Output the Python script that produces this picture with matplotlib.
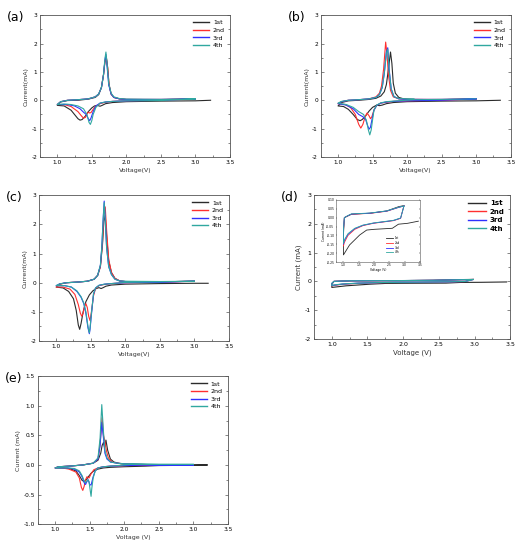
import matplotlib
matplotlib.use("Agg")
import matplotlib.pyplot as plt
from matplotlib.ticker import MultipleLocator, FormatStrFormatter

labels = ["1st", "2nd", "3rd", "4th"]
colors = ["#2b2b2b", "#ff3030", "#3030ff", "#30a8a0"]

# ---------------- panel (a) ----------------
a1_v = [3.22, 3.0, 2.5, 2.0, 1.8, 1.7, 1.65, 1.62, 1.58, 1.54, 1.5, 1.45, 1.4, 1.36, 1.33, 1.3, 1.25, 1.2, 1.1, 1.0,
        1.0, 1.05, 1.15, 1.3, 1.45, 1.55, 1.6, 1.64, 1.67, 1.69, 1.71, 1.73, 1.75, 1.78, 1.82, 1.9, 2.0, 2.5, 3.0]
a1_i = [0.0, -0.02, -0.03, -0.05, -0.08, -0.12, -0.18, -0.21, -0.18, -0.2, -0.27, -0.4, -0.58, -0.68, -0.7, -0.65, -0.5, -0.35, -0.2, -0.18,
        -0.18, -0.06, -0.01, 0.0, 0.04, 0.1, 0.2, 0.45, 0.9, 1.35, 1.55, 1.15, 0.55, 0.22, 0.1, 0.05, 0.03, 0.02, 0.05]
a2_v = [3.0, 2.5, 2.0, 1.8, 1.7, 1.62, 1.56, 1.52, 1.49, 1.47, 1.45, 1.43, 1.41, 1.38, 1.35, 1.3, 1.2, 1.1, 1.0,
        1.0, 1.05, 1.15, 1.3, 1.45, 1.55, 1.6, 1.64, 1.67, 1.69, 1.71, 1.73, 1.75, 1.78, 1.82, 1.9, 2.0, 2.5, 3.0]
a2_i = [0.05, 0.0, -0.02, -0.04, -0.07, -0.12, -0.2, -0.32, -0.43, -0.45, -0.42, -0.48, -0.6, -0.63, -0.55, -0.4, -0.22, -0.15, -0.15,
        -0.15, -0.05, 0.0, 0.02, 0.05, 0.12, 0.22, 0.45, 0.9, 1.35, 1.5, 1.15, 0.55, 0.22, 0.1, 0.05, 0.03, 0.03, 0.05]
a3_v = [3.0, 2.5, 2.0, 1.8, 1.7, 1.62, 1.56, 1.52, 1.49, 1.47, 1.45, 1.42, 1.38, 1.33, 1.25, 1.15, 1.0,
        1.0, 1.05, 1.15, 1.3, 1.45, 1.55, 1.6, 1.64, 1.67, 1.69, 1.705, 1.72, 1.745, 1.78, 1.82, 1.9, 2.0, 2.5, 3.0]
a3_i = [0.05, 0.0, -0.02, -0.04, -0.06, -0.1, -0.2, -0.4, -0.62, -0.72, -0.65, -0.5, -0.42, -0.3, -0.2, -0.15, -0.15,
        -0.15, -0.05, 0.0, 0.02, 0.05, 0.12, 0.22, 0.45, 0.9, 1.4, 1.62, 1.25, 0.55, 0.22, 0.1, 0.05, 0.03, 0.03, 0.05]
a4_v = [3.0, 2.5, 2.0, 1.8, 1.7, 1.62, 1.56, 1.52, 1.50, 1.48, 1.46, 1.43, 1.38, 1.3, 1.2, 1.1, 1.0,
        1.0, 1.05, 1.15, 1.3, 1.45, 1.55, 1.6, 1.64, 1.67, 1.69, 1.705, 1.72, 1.745, 1.78, 1.82, 1.9, 2.0, 2.5, 3.0]
a4_i = [0.05, -0.01, -0.02, -0.04, -0.06, -0.1, -0.25, -0.5, -0.72, -0.85, -0.78, -0.5, -0.3, -0.2, -0.15, -0.13, -0.15,
        -0.15, -0.05, 0.0, 0.02, 0.05, 0.12, 0.22, 0.45, 0.9, 1.45, 1.7, 1.3, 0.6, 0.25, 0.12, 0.06, 0.04, 0.03, 0.05]

# ---------------- panel (b) ----------------
b1_v = [3.35, 3.0, 2.5, 2.0, 1.8, 1.7, 1.64, 1.6, 1.56, 1.5, 1.45, 1.4, 1.35, 1.32, 1.28, 1.22, 1.15, 1.08, 1.0,
        1.0, 1.05, 1.15, 1.3, 1.45, 1.55, 1.62, 1.67, 1.7, 1.73, 1.76, 1.78, 1.8, 1.83, 1.88, 1.95, 2.1, 2.5, 3.0]
b1_i = [0.0, -0.02, -0.03, -0.05, -0.08, -0.12, -0.17, -0.19, -0.17, -0.25, -0.38, -0.55, -0.68, -0.72, -0.68, -0.5, -0.32, -0.22, -0.2,
        -0.2, -0.08, -0.02, 0.0, 0.03, 0.07, 0.15, 0.3, 0.55, 1.1, 1.7, 1.3, 0.6, 0.25, 0.1, 0.05, 0.03, 0.02, 0.05]
b2_v = [3.0, 2.5, 2.0, 1.8, 1.7, 1.62, 1.56, 1.52, 1.49, 1.47, 1.45, 1.42, 1.39, 1.36, 1.33, 1.3, 1.25, 1.18, 1.1, 1.0,
        1.0, 1.05, 1.15, 1.3, 1.45, 1.55, 1.6, 1.63, 1.66, 1.69, 1.71, 1.73, 1.76, 1.8, 1.88, 2.0, 2.5, 3.0]
b2_i = [0.05, 0.0, -0.02, -0.04, -0.07, -0.1, -0.18, -0.35, -0.58, -0.65, -0.55, -0.45, -0.6, -0.85, -0.98, -0.85, -0.5, -0.25, -0.15, -0.12,
        -0.12, -0.05, 0.0, 0.02, 0.05, 0.12, 0.25, 0.5, 1.1, 2.05, 1.6, 0.9, 0.35, 0.12, 0.05, 0.03, 0.03, 0.05]
b3_v = [3.0, 2.5, 2.0, 1.8, 1.7, 1.62, 1.56, 1.52, 1.49, 1.47, 1.45, 1.43, 1.4, 1.36, 1.3, 1.22, 1.12, 1.0,
        1.0, 1.05, 1.15, 1.3, 1.45, 1.55, 1.6, 1.64, 1.67, 1.7, 1.72, 1.74, 1.77, 1.81, 1.88, 2.0, 2.5, 3.0]
b3_i = [0.05, 0.0, -0.02, -0.04, -0.06, -0.1, -0.18, -0.35, -0.7, -0.95, -1.02, -0.9, -0.68, -0.58, -0.5, -0.3, -0.17, -0.12,
        -0.12, -0.05, 0.0, 0.02, 0.05, 0.1, 0.2, 0.45, 0.95, 1.7, 1.85, 1.1, 0.4, 0.13, 0.05, 0.03, 0.03, 0.05]
b4_v = [3.0, 2.5, 2.1, 1.8, 1.7, 1.62, 1.56, 1.52, 1.5, 1.48, 1.46, 1.44, 1.41, 1.37, 1.3, 1.22, 1.12, 1.0,
        1.0, 1.05, 1.15, 1.3, 1.45, 1.55, 1.6, 1.64, 1.67, 1.7, 1.72, 1.74, 1.77, 1.81, 1.88, 2.0, 2.1]
b4_i = [0.05, 0.03, 0.02, -0.03, -0.05, -0.09, -0.17, -0.35, -0.7, -1.05, -1.22, -1.05, -0.7, -0.5, -0.4, -0.25, -0.15, -0.1,
        -0.1, -0.04, 0.0, 0.02, 0.05, 0.1, 0.2, 0.45, 0.95, 1.65, 1.8, 1.05, 0.4, 0.13, 0.06, 0.05, 0.05]

# ---------------- panel (c) ----------------
c1_v = [3.2, 3.0, 2.5, 2.0, 1.8, 1.72, 1.68, 1.65, 1.62, 1.58, 1.53, 1.48, 1.43, 1.39, 1.36, 1.34, 1.32, 1.29, 1.25, 1.18, 1.1, 1.0,
        1.0, 1.05, 1.15, 1.3, 1.45, 1.55, 1.6, 1.64, 1.67, 1.69, 1.71, 1.73, 1.76, 1.8, 1.85, 1.92, 2.0, 2.5, 3.0]
c1_i = [-0.02, -0.02, -0.03, -0.05, -0.08, -0.12, -0.17, -0.2, -0.17, -0.2, -0.28, -0.42, -0.65, -1.0, -1.4, -1.6, -1.45, -0.95, -0.55, -0.3, -0.18, -0.15,
        -0.15, -0.05, 0.0, 0.02, 0.05, 0.12, 0.25, 0.55, 1.3, 2.1, 2.3, 1.6, 0.75, 0.35, 0.15, 0.06, 0.04, 0.03, 0.05]
c2_v = [3.0, 2.5, 2.0, 1.8, 1.7, 1.62, 1.57, 1.54, 1.51, 1.49, 1.47, 1.45, 1.43, 1.41, 1.39, 1.37, 1.35, 1.32, 1.27, 1.2, 1.1, 1.0,
        1.0, 1.05, 1.15, 1.3, 1.45, 1.55, 1.6, 1.64, 1.67, 1.69, 1.71, 1.73, 1.76, 1.8, 1.85, 1.92, 2.0, 2.5, 3.0]
c2_i = [0.05, 0.02, 0.0, -0.03, -0.06, -0.1, -0.2, -0.45, -1.0, -1.3, -1.15, -0.85, -0.72, -0.8, -1.05, -1.15, -1.05, -0.75, -0.4, -0.22, -0.15, -0.15,
        -0.15, -0.05, 0.0, 0.02, 0.05, 0.12, 0.25, 0.55, 1.4, 2.35, 2.6, 1.8, 0.8, 0.35, 0.15, 0.06, 0.04, 0.03, 0.05]
c3_v = [3.0, 2.5, 2.0, 1.8, 1.7, 1.62, 1.57, 1.54, 1.51, 1.49, 1.48, 1.46, 1.43, 1.4, 1.36, 1.3, 1.22, 1.12, 1.0,
        1.0, 1.05, 1.15, 1.3, 1.45, 1.55, 1.6, 1.64, 1.66, 1.68, 1.695, 1.71, 1.73, 1.76, 1.8, 1.85, 1.92, 2.0, 2.5, 3.0]
c3_i = [0.05, 0.02, 0.0, -0.03, -0.05, -0.09, -0.18, -0.4, -1.1, -1.6, -1.75, -1.55, -1.05, -0.72, -0.5, -0.3, -0.15, -0.1, -0.1,
        -0.1, -0.04, 0.0, 0.02, 0.05, 0.12, 0.25, 0.6, 1.2, 2.2, 2.8, 2.2, 1.2, 0.55, 0.28, 0.12, 0.06, 0.04, 0.03, 0.05]
c4_v = [3.0, 2.5, 2.0, 1.8, 1.7, 1.62, 1.57, 1.54, 1.51, 1.49, 1.48, 1.46, 1.43, 1.4, 1.36, 1.3, 1.22, 1.12, 1.0,
        1.0, 1.05, 1.15, 1.3, 1.45, 1.55, 1.6, 1.64, 1.66, 1.68, 1.695, 1.71, 1.73, 1.76, 1.8, 1.85, 1.92, 2.0, 2.5, 3.0]
c4_i = [0.05, 0.03, 0.01, -0.03, -0.05, -0.09, -0.18, -0.38, -1.05, -1.55, -1.72, -1.5, -1.0, -0.7, -0.48, -0.28, -0.15, -0.1, -0.1,
        -0.1, -0.04, 0.0, 0.02, 0.05, 0.12, 0.25, 0.6, 1.2, 2.15, 2.75, 2.15, 1.2, 0.55, 0.28, 0.12, 0.06, 0.05, 0.04, 0.05]

# ---------------- panel (d) ----------------
d1_v = [3.45, 3.1, 2.8, 2.6, 2.0, 1.76, 1.53, 1.2, 1.0, 1.0, 1.03, 1.15, 1.26, 1.87, 2.42, 2.81, 2.98]
d1_i = [-0.02, -0.032, -0.037, -0.06, -0.066, -0.07, -0.098, -0.154, -0.21, -0.1, 0.0, 0.01, 0.019, 0.025, 0.038, 0.062, 0.068]
d2_v = [2.98, 2.87, 2.64, 1.98, 1.64, 1.37, 1.15, 1.03, 1.0, 1.0, 1.03, 1.15, 1.26, 1.87, 2.42, 2.81, 2.98]
d2_i = [0.068, -0.004, -0.017, -0.032, -0.045, -0.066, -0.1, -0.14, -0.16, -0.08, 0.0, 0.01, 0.019, 0.024, 0.036, 0.058, 0.066]
d3_v = [2.98, 2.87, 2.64, 1.98, 1.64, 1.37, 1.15, 1.03, 1.0, 1.0, 1.03, 1.15, 1.26, 1.87, 2.42, 2.81, 2.98]
d3_i = [0.066, -0.003, -0.016, -0.031, -0.043, -0.062, -0.094, -0.13, -0.15, -0.07, 0.0, 0.011, 0.02, 0.025, 0.037, 0.058, 0.065]
d4_v = [2.98, 2.87, 2.64, 1.98, 1.64, 1.37, 1.15, 1.03, 1.0, 1.0, 1.03, 1.15, 1.26, 1.87, 2.42, 2.81, 2.98]
d4_i = [0.065, -0.002, -0.015, -0.03, -0.042, -0.06, -0.09, -0.125, -0.145, -0.07, 0.0, 0.012, 0.021, 0.026, 0.038, 0.059, 0.066]

# ---------------- panel (e) ----------------
e1_v = [3.2, 3.0, 2.5, 2.3, 2.0, 1.8, 1.7, 1.62, 1.56, 1.52, 1.48, 1.45, 1.42, 1.39, 1.35, 1.3, 1.2, 1.1, 1.0,
        1.0, 1.05, 1.2, 1.4, 1.55, 1.62, 1.66, 1.68, 1.70, 1.715, 1.735, 1.76, 1.8, 1.85, 1.95, 2.1, 2.3, 3.2]
e1_i = [0.0, -0.005, -0.01, -0.02, -0.03, -0.04, -0.05, -0.07, -0.1, -0.14, -0.2, -0.25, -0.28, -0.26, -0.18, -0.1, -0.06, -0.05, -0.05,
        -0.05, -0.03, -0.02, 0.0, 0.03, 0.08, 0.2, 0.33, 0.38, 0.3, 0.42, 0.25, 0.1, 0.05, 0.02, 0.01, 0.0, 0.0]
e2_v = [3.0, 2.5, 2.0, 1.8, 1.7, 1.62, 1.56, 1.52, 1.49, 1.46, 1.44, 1.42, 1.40, 1.38, 1.35, 1.3, 1.2, 1.1, 1.0,
        1.0, 1.05, 1.2, 1.4, 1.55, 1.62, 1.65, 1.68, 1.70, 1.72, 1.74, 1.77, 1.82, 1.9, 2.0, 2.5, 3.0]
e2_i = [0.0, -0.005, -0.01, -0.02, -0.03, -0.05, -0.08, -0.15, -0.22, -0.2, -0.25, -0.36, -0.43, -0.38, -0.22, -0.12, -0.07, -0.05, -0.05,
        -0.05, -0.03, -0.02, 0.0, 0.03, 0.1, 0.35, 0.8, 0.5, 0.4, 0.25, 0.12, 0.05, 0.03, 0.02, 0.0, 0.0]
e3_v = [3.0, 2.5, 2.0, 1.8, 1.7, 1.62, 1.58, 1.55, 1.52, 1.50, 1.48, 1.46, 1.44, 1.42, 1.39, 1.35, 1.28, 1.18, 1.0,
        1.0, 1.05, 1.2, 1.4, 1.55, 1.62, 1.65, 1.675, 1.70, 1.72, 1.75, 1.8, 1.9, 2.0, 2.5, 3.0]
e3_i = [0.0, 0.0, -0.01, -0.02, -0.03, -0.05, -0.1, -0.2, -0.34, -0.33, -0.25, -0.28, -0.33, -0.3, -0.2, -0.12, -0.07, -0.05, -0.05,
        -0.05, -0.03, -0.02, 0.0, 0.03, 0.1, 0.32, 0.72, 0.45, 0.2, 0.1, 0.05, 0.03, 0.02, 0.0, 0.0]
e4_v = [3.0, 2.5, 2.1, 1.8, 1.7, 1.62, 1.58, 1.55, 1.53, 1.52, 1.51, 1.49, 1.47, 1.44, 1.42, 1.39, 1.35, 1.28, 1.18, 1.0,
        1.0, 1.05, 1.2, 1.4, 1.55, 1.62, 1.65, 1.675, 1.70, 1.72, 1.75, 1.8, 1.9, 2.0, 2.1, 2.5, 3.0]
e4_i = [0.01, 0.01, 0.01, -0.02, -0.03, -0.05, -0.1, -0.22, -0.4, -0.53, -0.45, -0.28, -0.25, -0.3, -0.27, -0.18, -0.1, -0.06, -0.05, -0.05,
        -0.05, -0.03, -0.02, 0.0, 0.03, 0.12, 0.45, 1.02, 0.55, 0.25, 0.12, 0.05, 0.03, 0.02, 0.02, 0.01, 0.01]

panels = {
    "a": [(a1_v, a1_i), (a2_v, a2_i), (a3_v, a3_i), (a4_v, a4_i)],
    "b": [(b1_v, b1_i), (b2_v, b2_i), (b3_v, b3_i), (b4_v, b4_i)],
    "c": [(c1_v, c1_i), (c2_v, c2_i), (c3_v, c3_i), (c4_v, c4_i)],
    "d": [(d1_v, d1_i), (d2_v, d2_i), (d3_v, d3_i), (d4_v, d4_i)],
    "e": [(e1_v, e1_i), (e2_v, e2_i), (e3_v, e3_i), (e4_v, e4_i)],
}

fig = plt.figure(figsize=(5.19, 5.5), dpi=100)
plt.rcParams['font.family'] = ['DejaVu Sans']

rects = {
    "a": [0.077, 0.7145, 0.366, 0.258],
    "b": [0.618, 0.7145, 0.366, 0.258],
    "c": [0.075, 0.380, 0.366, 0.265],
    "d": [0.605, 0.3836, 0.378, 0.262],
    "e": [0.073, 0.047, 0.366, 0.269],
}
ylabels = {"a": "Current(mA)", "b": "Current(mA)", "c": "Current(mA)", "d": "Current (mA)", "e": "Current (mA)"}
xlabels = {"a": "Voltage(V)", "b": "Voltage(V)", "c": "Voltage(V)", "d": "Voltage (V)", "e": "Voltage (V)"}
spine_col = "#555555"


def style(ax, fs=4.2, ymaj=1, ymin=0.5, yfmt="%d"):
    for s in ax.spines.values():
        s.set_linewidth(0.6)
        s.set_color(spine_col)
    ax.xaxis.set_major_locator(MultipleLocator(0.5))
    ax.xaxis.set_minor_locator(MultipleLocator(0.25))
    ax.yaxis.set_major_locator(MultipleLocator(ymaj))
    ax.yaxis.set_minor_locator(MultipleLocator(ymin))
    ax.xaxis.set_major_formatter(FormatStrFormatter("%.1f"))
    ax.yaxis.set_major_formatter(FormatStrFormatter(yfmt))
    ax.tick_params(which="both", direction="in", top=False, right=True, width=0.5,
                   labelsize=fs, pad=2, color=spine_col)
    ax.tick_params(which="major", length=2.2)
    ax.tick_params(which="minor", length=1.2)


for key in ["a", "b", "c", "d", "e"]:
    ax = fig.add_axes(rects[key])
    for (v, i), lab, col in zip(panels[key], labels, colors):
        ax.plot(v, i, color=col, lw=0.8, label=lab)
    ax.set_xlim(0.75, 3.5)
    if key == "e":
        ax.set_ylim(-1.0, 1.5)
        style(ax, ymaj=0.5, ymin=0.25, yfmt="%.1f")
    else:
        ax.set_ylim(-2, 3)
        style(ax, fs=4.5 if key == "d" else 4.2)
    lfs = 5 if key == "d" else 4.5
    ax.set_xlabel(xlabels[key], fontsize=lfs, labelpad=2, color="#333333")
    ax.set_ylabel(ylabels[key], fontsize=lfs, labelpad=2, color="#333333")
    leg = ax.legend(loc="upper right", frameon=False,
                    handlelength=2.6, handletextpad=0.6, labelspacing=0.35,
                    borderaxespad=0.4,
                    prop={"size": lfs, "weight": "bold" if key == "d" else "normal"})
    for ln in leg.get_lines():
        ln.set_linewidth(1.0)
    fig.text(rects[key][0] - 0.064, rects[key][1] + rects[key][3] - 0.004, "(%s)" % key,
             fontsize=9, va="center", ha="left")
    if key == "d":
        ins = fig.add_axes([0.647, 0.5236, 0.162, 0.113])
        for (v, i), lab, col in zip(panels[key], labels, colors):
            ins.plot(v, i, color=col, lw=0.6, label=lab)
        ins.set_xlim(0.75, 3.5)
        ins.set_ylim(-0.25, 0.10)
        for s in ins.spines.values():
            s.set_linewidth(0.4)
            s.set_color(spine_col)
        ins.xaxis.set_major_locator(MultipleLocator(0.5))
        ins.yaxis.set_major_locator(MultipleLocator(0.05))
        ins.xaxis.set_major_formatter(FormatStrFormatter("%.1f"))
        ins.yaxis.set_major_formatter(FormatStrFormatter("%.2f"))
        ins.tick_params(direction="in", labelsize=2.2, length=1, width=0.3, pad=1, right=True)
        ins.set_xlabel("Voltage (V)", fontsize=2.2, labelpad=0.5)
        ins.set_ylabel("Current (mA)", fontsize=2.2, labelpad=0.5)
        ins.legend(loc="lower right", frameon=False, fontsize=2, handlelength=2.5,
                   labelspacing=0.3, borderaxespad=1.2, bbox_to_anchor=(0.82, 0.05))

fig.savefig("out.png", dpi=100)
